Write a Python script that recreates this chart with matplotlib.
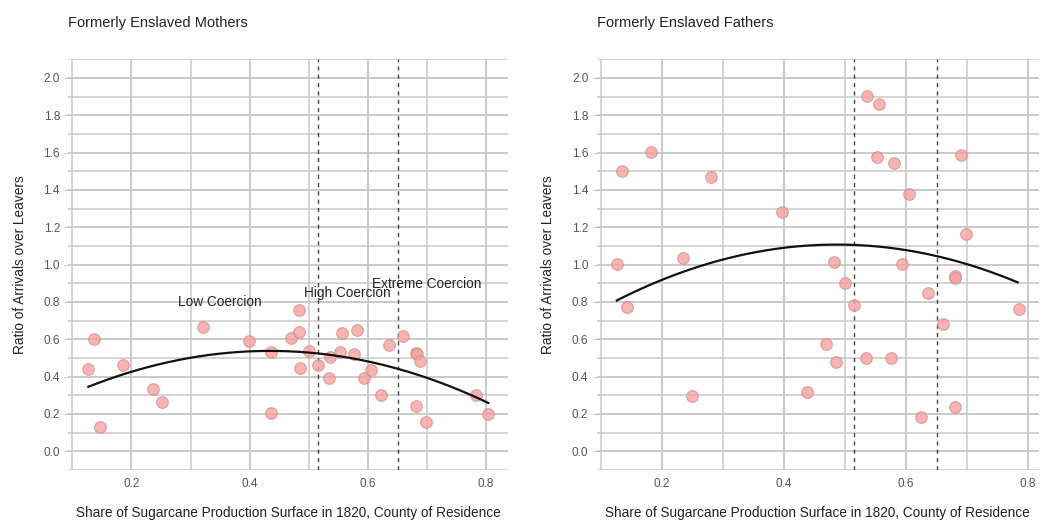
import numpy as np
import matplotlib
matplotlib.use("Agg")
import matplotlib.pyplot as plt
from matplotlib.ticker import MultipleLocator, FormatStrFormatter

# ---- data ----
mothers_x = [0.136, 0.127, 0.146, 0.185, 0.236, 0.252, 0.321, 0.399, 0.436, 0.437,
             0.470, 0.483, 0.484, 0.485, 0.500, 0.515, 0.536, 0.535, 0.553, 0.556,
             0.576, 0.581, 0.594, 0.606, 0.623, 0.636, 0.660, 0.681, 0.683, 0.689,
             0.681, 0.698, 0.784, 0.804]
mothers_y = [0.601, 0.442, 0.132, 0.464, 0.334, 0.265, 0.668, 0.591, 0.530, 0.205,
             0.605, 0.757, 0.640, 0.448, 0.539, 0.461, 0.503, 0.395, 0.530, 0.633,
             0.519, 0.648, 0.393, 0.435, 0.303, 0.571, 0.620, 0.528, 0.522, 0.484,
             0.242, 0.156, 0.303, 0.201]

fathers_x = [0.536, 0.556, 0.182, 0.134, 0.553, 0.581, 0.690, 0.280, 0.605, 0.397,
             0.698, 0.126, 0.235, 0.482, 0.594, 0.681, 0.681, 0.500, 0.143, 0.515,
             0.636, 0.785, 0.661, 0.469, 0.486, 0.534, 0.576, 0.250, 0.437, 0.624,
             0.681]
fathers_y = [1.901, 1.858, 1.603, 1.504, 1.579, 1.542, 1.590, 1.469, 1.379, 1.284,
             1.164, 1.003, 1.036, 1.016, 1.003, 0.940, 0.926, 0.900, 0.775, 0.782,
             0.848, 0.760, 0.680, 0.574, 0.476, 0.499, 0.499, 0.299, 0.320, 0.184,
             0.238]

# fitted curve for fathers
fathers_fit_x = [0.126, 0.2, 0.3, 0.4, 0.46, 0.5, 0.6, 0.7, 0.783]
fathers_fit_y = [0.812, 0.914, 1.027, 1.090, 1.106, 1.107, 1.080, 1.004, 0.903]

thresholds = [0.515, 0.651]
panel_titles = ["Formerly Enslaved Mothers", "Formerly Enslaved Fathers"]
coercion_labels = ["Low Coercion", "High Coercion", "Extreme Coercion"]
coercion_label_pos = [(0.35, 0.80), (0.565, 0.846), (0.70, 0.896)]
xlabel = "Share of Sugarcane Production Surface in 1820, County of Residence"
ylabel = "Ratio of Arrivals over Leavers"

plt.rcParams['font.family'] = ['Liberation Sans', 'DejaVu Sans']

fig = plt.figure(figsize=(10.5, 5.24), dpi=100)
ax1 = fig.add_axes([68.3/1050, 54/524, 440/1050, 410.7/524])
ax2 = fig.add_axes([596.7/1050, 54/524, 442.3/1050, 410.7/524])

grid_c = "#c9c9c9"
pt_face = "#f4a3a0"
pt_edge = "#d98c8a"

def style(ax, xs, ys, title):
    ax.set_ylim(-0.1, 2.1)
    rng = max(xs) - min(xs)
    ax.set_xlim(min(xs) - 0.05*rng, max(xs) + 0.05*rng)
    ax.xaxis.set_major_locator(MultipleLocator(0.2))
    ax.xaxis.set_minor_locator(MultipleLocator(0.1))
    ax.yaxis.set_major_locator(MultipleLocator(0.2))
    ax.yaxis.set_minor_locator(MultipleLocator(0.1))
    ax.grid(True, which='major', color=grid_c, lw=1.4)
    ax.grid(True, which='minor', color=grid_c, lw=1.1)
    ax.set_axisbelow(True)
    for s in ax.spines.values():
        s.set_visible(False)
    ax.tick_params(axis='both', which='minor', length=0)
    ax.tick_params(axis='y', which='major', length=3, color=grid_c, labelsize=8.5,
                   labelcolor="#555555", pad=3)
    ax.tick_params(axis='x', which='major', length=0, labelsize=8.5,
                   labelcolor="#555555", pad=6)
    ax.yaxis.set_major_formatter(FormatStrFormatter('%.1f'))
    ax.xaxis.set_major_formatter(FormatStrFormatter('%.1f'))
    ax.set_xlabel(xlabel, fontsize=9.8, color="#222222", labelpad=11)
    ax.set_ylabel(ylabel, fontsize=9.8, color="#222222", labelpad=12)
    ax.set_title(title, loc='left', fontsize=10.5, color="#222222", pad=23)
    for t in thresholds:
        ax.axvline(t, color="#444444", lw=1.0, ls=(0, (3, 3)), zorder=2)
    ax.scatter(xs, ys, s=70, facecolor=pt_face, edgecolor=pt_edge, linewidth=0.8,
               alpha=0.8, zorder=3)

style(ax1, mothers_x, mothers_y, panel_titles[0])
style(ax2, fathers_x, fathers_y, panel_titles[1])

# quadratic smoother for mothers (fit to data)
coef1 = np.polyfit(mothers_x, mothers_y, 2)
xx1 = np.linspace(min(mothers_x), max(mothers_x), 200)
ax1.plot(xx1, np.polyval(coef1, xx1), color="#111111", lw=1.6, zorder=4)

# quadratic smoother for fathers (through the curve)
coef2 = np.polyfit(fathers_fit_x, fathers_fit_y, 2)
xx2 = np.linspace(min(fathers_fit_x), max(fathers_fit_x), 200)
ax2.plot(xx2, np.polyval(coef2, xx2), color="#111111", lw=1.6, zorder=4)

for lab, (lx, ly) in zip(coercion_labels, coercion_label_pos):
    ax1.text(lx, ly, lab, ha='center', va='center', fontsize=9.8, color="#222222", zorder=5)

fig.savefig("out.png", dpi=100)
